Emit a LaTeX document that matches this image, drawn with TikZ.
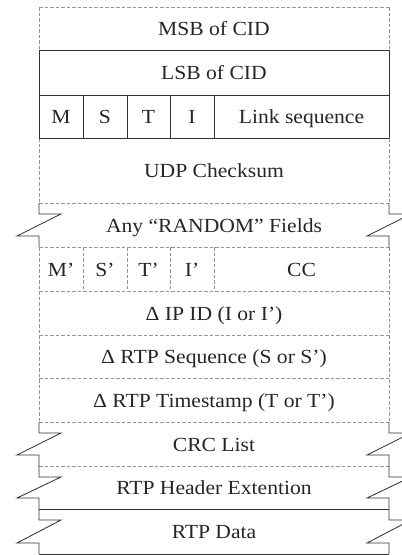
\documentclass[tikz,border=0pt]{standalone}
\usepackage{fontspec}
\setmainfont{Liberation Serif}[FakeStretch=1.08]
\begin{document}
\begin{tikzpicture}[x=1pt,y=-1pt,
  solidline/.style={draw=black!80, line width=0.85pt},
  dashline/.style={draw=black!42, line width=0.8pt, dash pattern=on 3.5pt off 2pt},
  field/.style={anchor=base, inner sep=0pt, text=black!85, font=\fontsize{20}{23}\selectfont}]
\useasboundingbox (0,0) rectangle (402,555);
\clip (0,0) rectangle (402,555);

% dashed row separators and side walls
\draw[dashline] (39,7) -- (389,7);
\foreach \y in {203,247,291,335,378,422,466} \draw[dashline] (39,\y) -- (389,\y);
\draw[dashline] (39,7) -- (39,50);   \draw[dashline] (389,7) -- (389,50);
\draw[dashline] (39,138) -- (39,203); \draw[dashline] (389,138) -- (389,203);
\draw[dashline] (39,247) -- (39,422); \draw[dashline] (389,247) -- (389,422);
\foreach \x in {83,127,170,214} \draw[dashline] (\x,247) -- (\x,291);

% solid separators and walls
\foreach \y in {50,95,138,509,554} \draw[solidline] (39,\y) -- (389,\y);
\draw[solidline] (39,50) -- (39,138); \draw[solidline] (389,50) -- (389,138);
\foreach \x in {83,127,170,214} \draw[solidline] (\x,95) -- (\x,138);

% break marks on rows of variable length
\foreach \t/\b in {203/247,422/466,466/509,509/554} {
  \draw[solidline, line join=miter] (39,\t) -- (39,\t+11) -- (61,\t+11) -- (17,\b-11) -- (39,\b-11) -- (39,\b);
  \draw[solidline, line join=miter] (389,\t) -- (389,\t+11) -- (411,\t+11) -- (367,\b-11) -- (389,\b-11) -- (389,\b);
}

% field labels
\node[field] (msb)  at (214,35.5) {MSB of CID};
\node[field] (lsb)  at (214,79.5) {LSB of CID};
\node[field] (m)    at (61,123.5) {M};
\node[field] (s)    at (105,123.5) {S};
\node[field] (t)    at (148.5,123.5) {T};
\node[field] (i)    at (192,123.5) {I};
\node[field] (link) at (301.5,123.5) {Link sequence};
\node[field] (udp)  at (214,177.5) {UDP Checksum};
\node[field] (rnd)  at (214,232) {Any “RANDOM” Fields};
\node[field] (mp)   at (61,276) {M’};
\node[field] (sp)   at (105,276) {S’};
\node[field] (tp)   at (148.5,276) {T’};
\node[field] (ip)   at (192,276) {I’};
\node[field] (cc)   at (301.5,276) {CC};
\node[field] (ipid) at (214,320) {Δ IP ID (I or I’)};
\node[field] (seq)  at (214,363.5) {Δ RTP Sequence (S or S’)};
\node[field] (ts)   at (214,407) {Δ RTP Timestamp (T or T’)};
\node[field] (crc)  at (214,451) {CRC List};
\node[field] (hdr)  at (214,494.5) {RTP Header Extention};
\node[field] (data) at (214,538.5) {RTP Data};
\end{tikzpicture}
\end{document}
